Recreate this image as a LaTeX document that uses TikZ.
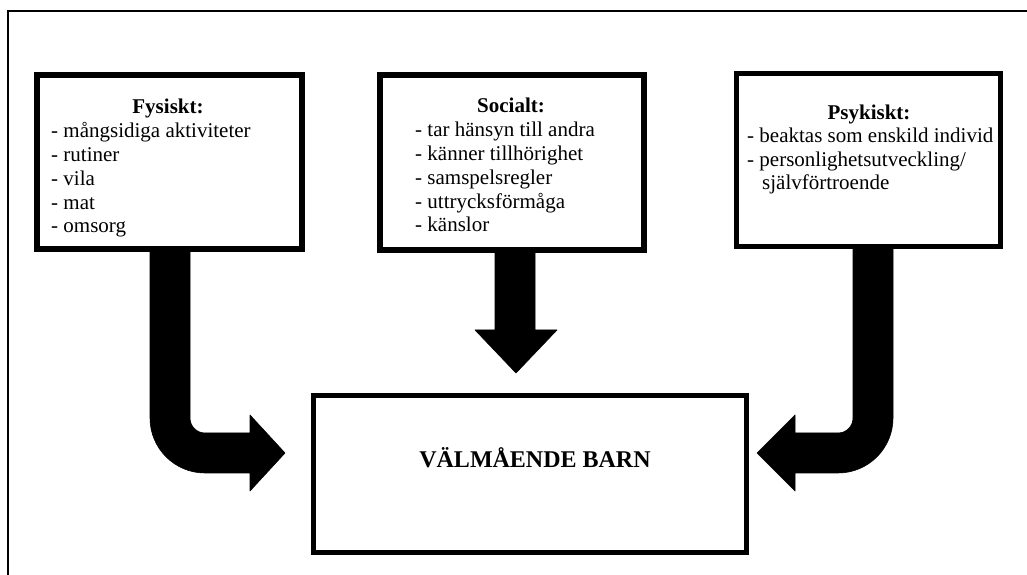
\documentclass[tikz,border=0pt]{standalone}
\usepackage{fontspec}
\setmainfont{Liberation Serif}
\begin{document}
\begin{tikzpicture}[x=1pt,y=1pt,
  box/.style={draw=black, line width=5.5pt, fill=white, inner sep=0pt, rectangle},
  ttl/.style={anchor=base, inner sep=0pt, font=\fontsize{21}{24}\selectfont\bfseries},
  item/.style={anchor=base west, inner sep=0pt, font=\fontsize{21}{24}\selectfont},
  bigarrow/.style={fill=black, draw=black, line width=0.6pt, line join=round}]
\useasboundingbox (0,0) rectangle (1027,575);
% outer frame (top and left visible)
\coordinate (fa) at (8,0);
\coordinate (fb) at (8,564);
\coordinate (fc) at (1027,564);
\draw[line width=2.5pt] (fa) -- (fb) -- (fc);

% boxes
\node[box, minimum width=265pt, minimum height=174pt] (fys) at (169.5,413) {};
\node[box, minimum width=264pt, minimum height=175pt] (soc) at (512,412.5) {};
\node[box, minimum width=264pt, minimum height=173pt] (psy) at (868.5,415) {};
\node[box, line width=5pt, minimum width=433pt, minimum height=157pt] (bar) at (530,101) {};

% arrows
\fill[bigarrow] (150,326) -- (150,157) arc[start angle=180, end angle=270, radius=55]
  -- (250,102) -- (250,84) -- (285,122) -- (250,160) -- (250,142) -- (205,142)
  arc[start angle=270, end angle=180, radius=15] -- (190,326) -- cycle;
\fill[bigarrow] (495,323) -- (495,245) -- (475,245) -- (516,202) -- (557,245) -- (535,245) -- (535,323) -- cycle;
\fill[bigarrow] (893,328) -- (893,157) arc[start angle=0, end angle=-90, radius=55]
  -- (795,102) -- (795,84) -- (757,122) -- (795,160) -- (795,142) -- (838,142)
  arc[start angle=-90, end angle=0, radius=15] -- (853,328) -- cycle;

% texts
\node[ttl] (fyst) at (168,461) {Fysiskt:};
\node[item] (f1) at (51,437) {- mångsidiga aktiviteter};
\node[item] (f2) at (51,413) {- rutiner};
\node[item] (f3) at (51,389) {- vila};
\node[item] (f4) at (51,365) {- mat};
\node[item] (f5) at (51,342) {- omsorg};

\node[ttl] (soct) at (511,462) {Socialt:};
\node[item] (s1) at (415,438) {- tar hänsyn till andra};
\node[item] (s2) at (415,414) {- känner tillhörighet};
\node[item] (s3) at (415,390) {- samspelsregler};
\node[item] (s4) at (415,366) {- uttrycksförmåga};
\node[item] (s5) at (415,343) {- känslor};

\node[ttl] (psyt) at (869,455) {Psykiskt:};
\node[item] (p1) at (747,432) {- beaktas som enskild individ};
\node[item] (p2) at (747,408) {- personlighetsutveckling/};
\node[item] (p3) at (762,385) {självförtroende};

\node[anchor=base, inner sep=0pt, font=\fontsize{24}{28}\selectfont\bfseries] (bart) at (535,107) {VÄLMÅENDE BARN};
\end{tikzpicture}
\end{document}
